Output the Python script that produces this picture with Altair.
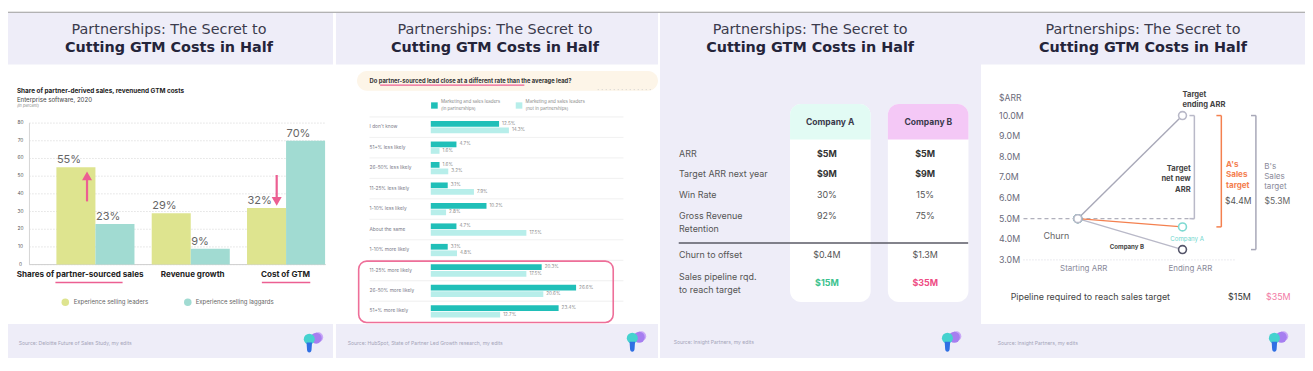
import altair as alt
import pandas as pd

# ---------------- data ----------------
title_line1 = "Partnerships: The Secret to"
title_line2 = "Cutting GTM Costs in Half"

# Panel 1 : grouped bars
p1_title = "Share of partner-derived sales, revenuend GTM costs"
p1_subtitle = "Enterprise software, 2020"
p1_unit = "(in percent)"
p1_categories = ["Shares of partner-sourced sales", "Revenue growth", "Cost of GTM"]
p1_series = ["Experience selling leaders", "Experience selling laggards"]
p1_leaders = [55, 29, 32]
p1_laggards = [23, 9, 70]
p1_ticks = [0, 10, 20, 30, 40, 50, 60, 70, 80]
p1_source = "Source: Deloitte Future of Sales Study, my edits"

# Panel 2 : horizontal paired bars
p2_question = "Do partner-sourced lead close at a different rate than the average lead?"
p2_categories = ["I don't know", "51+% less likely", "26-50% less likely", "11-25% less likely",
                 "1-10% less likely", "About the same", "1-10% more likely",
                 "11-25% more likely", "26-50% more likely", "51+% more likely"]
p2_series = ["Marketing and sales leaders|(in partnerships)",
             "Marketing and sales leaders|(not in partnerships)"]
p2_in = [12.5, 4.7, 1.6, 3.1, 10.2, 4.7, 3.1, 20.3, 26.6, 23.4]
p2_not = [14.3, 1.6, 3.2, 7.9, 2.8, 17.5, 4.8, 17.5, 20.6, 12.7]
p2_source = "Source: HubSpot, State of Partner Led Growth research, my edits"

# Panel 3 : comparison table
p3_companies = ["Company A", "Company B"]
p3_rows = ["ARR", "Target ARR next year", "Win Rate", "Gross Revenue|Retention",
           "Churn to offset", "Sales pipeline rqd.|to reach target"]
p3_company_a = ["$5M", "$9M", "30%", "92%", "$0.4M", "$15M"]
p3_company_b = ["$5M", "$9M", "15%", "75%", "$1.3M", "$35M"]
p3_source = "Source: Insight Partners, my edits"

# Panel 4 : ARR bridge
p4_stages = ["Starting ARR", "Ending ARR"]
p4_series = ["Company B", "Company A", "Target"]
p4_target = [5.0, 10.0]
p4_company_a = [5.0, 4.6]
p4_company_b = [5.0, 3.5]
p4_ticks = [3, 4, 5, 6, 7, 8, 9, 10]
p4_sales_target = ["$4.4M", "$5.3M"]
p4_pipeline = ["$15M", "$35M"]
p4_source = "Source: Insight Partners, my edits"

# ---------------- layout helpers ----------------
W, H = 1297, 350
SX, SY = W / 1313, H / 371
FS = 0.97
FONT = "Inter"
TFONT = "DejaVu Sans"
ONE = alt.Data(values=[{"k": 1}])

LAV = "#eeedf8"
PINK = "#ec5f92"
C_LEAD = "#dee48f"
C_LAG = "#a1dbd2"
C_DARK = "#20bfb8"
C_LIGHT = "#b7eeea"
C_TEAL4 = "#7fdad2"
C_B4 = "#55556a"
C_T4 = "#b9b9c8"
ORANGE = "#f4804f"


def X(v):
    return round(v * SX, 2)


def Y(v):
    return round(v * SY, 2)


def text(s, x, y, size, color="#555", weight="normal", align="left", style="normal", font=FONT):
    return alt.Chart(ONE).mark_text(
        text=s, font=font, fontSize=round(size * FS, 2), color=color, fontWeight=weight,
        align=align, baseline="middle", fontStyle=style,
    ).encode(x=alt.value(X(x)), y=alt.value(Y(y)))


def rect(x0, y0, x1, y1, fill, **kw):
    return alt.Chart(ONE).mark_rect(fill=fill, **kw).encode(
        x=alt.value(X(x0)), x2=alt.value(X(x1)), y=alt.value(Y(y0)), y2=alt.value(Y(y1)))


def rule(x0, y0, x1, y1, color, width=1.0, dash=None):
    kw = dict(color=color, strokeWidth=width)
    if dash:
        kw["strokeDash"] = dash
    return alt.Chart(ONE).mark_rule(**kw).encode(
        x=alt.value(X(x0)), x2=alt.value(X(x1)), y=alt.value(Y(y0)), y2=alt.value(Y(y1)))


def dot(x, y, d, color, shape="circle", opacity=1):
    return alt.Chart(ONE).mark_point(filled=True, shape=shape, size=d * d, color=color, opacity=opacity).encode(
        x=alt.value(X(x)), y=alt.value(Y(y)))


def logo(cx, cy):
    drop = "M -0.55 -1 L 0.55 -1 L 0.45 0.45 A 0.45 0.55 0 0 1 -0.45 0.45 Z"
    return [
        dot(cx + 9, cy - 2, 10, "#c9a8f7"),
        dot(cx + 7, cy - 1, 11, "#a67ef0"),
        dot(cx, cy, 11, "#45d2cf"),
        dot(cx, cy + 9, 10, "#2f6fe3", shape=drop),
    ]


layers = []

# ---------------- backgrounds ----------------
panels = [(0, 329), (332, 658), (660, 985), (985, 1313)]
for i, (a, b) in enumerate(panels):
    if i == 2:
        layers.append(rect(a, 5, b, 371, LAV))
    else:
        layers.append(rect(a, 5, b, 60, LAV))
        layers.append(rect(a, 335, b, 371, LAV))
layers.append(rule(0, 4.5, 1313, 4.5, "#9a9a9a", 1.2))

# titles
for cx in [163, 493, 812, 1149]:
    layers.append(text(title_line1, cx, 23, 14.8, "#3b3b4d", align="center", font=TFONT))
    layers.append(text(title_line2, cx, 42.5, 14.8, "#24243a", weight="bold", align="center", font=TFONT))

# ---------------- panel 1 ----------------
layers.append(text(p1_title, 9, 88, 6.6, "#222", weight="bold"))
layers.append(text(p1_subtitle, 9, 97.5, 6.3, "#444"))
layers.append(text(p1_unit, 9, 104, 4.2, "#888", style="italic"))

df1 = pd.DataFrame({
    "category": [c for c in p1_categories for _ in p1_series],
    "series": p1_series * len(p1_categories),
    "value": [v for pair in zip(p1_leaders, p1_laggards) for v in pair],
})
df1["label"] = df1["value"].astype(int).astype(str) + "%"
x1 = alt.X("category:N", axis=None,
           scale=alt.Scale(domain=p1_categories, range=[X(49), X(321)], paddingInner=0.181, paddingOuter=0))
xo1 = alt.XOffset("series:N", scale=alt.Scale(domain=p1_series, paddingInner=0, paddingOuter=0))
y1 = alt.Y("value:Q", axis=None, scale=alt.Scale(domain=[0, 80], range=[Y(272), Y(122)], nice=False))
col1 = alt.Color("series:N", legend=None, scale=alt.Scale(domain=p1_series, range=[C_LEAD, C_LAG]))
t1 = pd.DataFrame({"value": p1_ticks, "t": [str(t) for t in p1_ticks]})

p1_grid = alt.Chart(t1).mark_rule(color="#c9c9c9", strokeWidth=0.8, strokeDash=[1, 2]).encode(
    y=y1, x=alt.value(X(21.7)), x2=alt.value(X(321.7)))
p1_axis = alt.Chart(pd.DataFrame({"value": [0], "v2": [80]})).mark_rule(color="#d5d5d5", strokeWidth=1).encode(
    y=y1, y2="v2:Q", x=alt.value(X(21.7)))
p1_base = alt.Chart(pd.DataFrame({"value": [0]})).mark_rule(color="#cfcfcf", strokeWidth=1).encode(
    y=y1, x=alt.value(X(21.7)), x2=alt.value(X(321.7)))
p1_tl = alt.Chart(t1).mark_text(font=FONT, fontSize=4.8, color="#555", align="center", baseline="middle").encode(
    y=y1, x=alt.value(X(12.7)), text="t:N")
p1_bars = alt.Chart(df1).mark_bar().encode(x=x1, xOffset=xo1, y=y1, color=col1)
p1_labels = alt.Chart(df1).mark_text(font=FONT, fontSize=11, color="#666", baseline="bottom",
                                     align="left", dy=-2, dx=-19).encode(
    x=x1, xOffset=xo1, y=y1, text="label:N")
layers.append(alt.layer(p1_grid, p1_axis, p1_base, p1_tl, p1_bars, p1_labels))

# arrows
layers.append(rule(80, 205, 80, 180, PINK, 2.2))
layers.append(dot(80, 178, 10, PINK, shape="triangle-up"))
layers.append(rule(272, 177, 272, 202, PINK, 2.2))
layers.append(dot(272, 205, 10, PINK, shape="triangle-down"))

for cat, cx in zip(p1_categories, [73, 187, 281]):
    layers.append(text(cat, cx, 283.5, 8.3, "#222", weight="bold", align="center"))
layers.append(rule(48, 291, 116, 291, PINK, 1.5))
layers.append(rule(257, 291, 306, 291, PINK, 1.5))

layers.append(dot(58, 312, 7.5, C_LEAD))
layers.append(text(p1_series[0], 66.5, 312, 6.2, "#666"))
layers.append(dot(182, 312, 7.5, C_LAG))
layers.append(text(p1_series[1], 190, 312, 6.2, "#666"))
layers.append(text(p1_source, 11, 355, 5.2, "#a5a5b8"))
layers += logo(305, 351)

# ---------------- panel 2 ----------------
layers.append(rect(353.3, 66.7, 658, 87.7, "#fdf5e8", cornerRadius=10))
layers.append(rule(597, 86.5, 652, 86.5, "#c8c8c8", 0.8, dash=[1, 3]))
layers.append(text(p2_question, 366, 77.3, 6.0, "#333", weight="bold"))
layers.append(rule(376.7, 81.8, 522.7, 81.8, PINK, 1.3))

for sx_, col_, ser in [(428.3, C_DARK, p2_series[0]), (514, C_LIGHT, p2_series[1])]:
    layers.append(rect(sx_, 100, sx_ + 6.7, 106.7, col_))
    l1, l2 = ser.split("|")
    layers.append(text(l1, sx_ + 10, 100, 4.6, "#8a8a8a"))
    layers.append(text(l2, sx_ + 10, 106.7, 4.6, "#8a8a8a"))

for i in range(10):
    yy = 115.5 + 21.7 * i
    layers.append(rule(366, yy, 623, yy, "#ececec", 0.8))

df2 = pd.DataFrame({
    "cat": [c for c in p2_categories for _ in p2_series],
    "series": p2_series * len(p2_categories),
    "value": [v for pair in zip(p2_in, p2_not) for v in pair],
})
df2["label"] = df2["value"].map(lambda v: f"{v:.1f}%")
y2 = alt.Y("cat:N", axis=None,
           scale=alt.Scale(domain=p2_categories, range=[Y(115.5), Y(332.5)], paddingInner=0.4, paddingOuter=0.2))
yo2 = alt.YOffset("series:N", scale=alt.Scale(domain=p2_series, paddingInner=0.12, paddingOuter=0))
x2 = alt.X("value:Q", axis=None, scale=alt.Scale(domain=[0, 30], range=[X(428), X(593.9)], nice=False))
col2 = alt.Color("series:N", legend=None, scale=alt.Scale(domain=p2_series, range=[C_DARK, C_LIGHT]))
p2_bars = alt.Chart(df2).mark_bar().encode(x=x2, y=y2, yOffset=yo2, color=col2)
p2_vals = alt.Chart(df2).mark_text(font=FONT, fontSize=4.6, color="#8a8a8a", align="left", dx=3).encode(
    x=x2, y=y2, yOffset=yo2, text="label:N")
p2_rows = alt.Chart(pd.DataFrame({"cat": p2_categories})).mark_text(
    font=FONT, fontSize=4.8, color="#7a7a88", align="left").encode(y=y2, x=alt.value(X(366)), text="cat:N")
layers.append(alt.layer(p2_bars, p2_vals, p2_rows))

layers.append(rect(355, 268.3, 612.7, 333.3, "transparent", stroke="#ee6f99", strokeWidth=1.6, cornerRadius=8))
layers.append(text(p2_source, 344, 355, 5.2, "#a5a5b8"))
layers += logo(632, 350)

# ---------------- panel 3 ----------------
cards = [(791.7, 873.3, "#e2fbf4", 832.3, 829), (890.7, 972.3, "#f4c8f6", 931.7, 928.5)]
for (a, b, hc, hx, vx), name, vals in zip(cards, p3_companies, [p3_company_a, p3_company_b]):
    layers.append(rect(a, 101.7, b, 311.7, "white", cornerRadius=11))
    layers.append(rect(a, 101.7, b, 139.3, hc, cornerRadiusTopLeft=11, cornerRadiusTopRight=11))
    layers.append(text(name, hx, 120.7, 8.8, "#3a3a4c", weight="bold", align="center"))

row_y = [154.3, 176, 198.3, 220.7, 262.3, 285]
for r, ry in zip(p3_rows, row_y):
    for j, part in enumerate(r.split("|")):
        layers.append(text(part, 679.3, ry + j * 13.5, 9.2, "#555"))
for vals, vx, big in [(p3_company_a, 829, "#3cc28e"), (p3_company_b, 928.5, "#ee4c84")]:
    for k, (v, ry) in enumerate(zip(vals, row_y)):
        if k in (0, 1):
            layers.append(text(v, vx, ry, 9.2, "#333", weight="bold", align="center"))
        elif k == 5:
            layers.append(text(v, vx, ry + 6.5, 9.2, big, weight="bold", align="center"))
        else:
            layers.append(text(v, vx, ry, 9.2, "#555", align="center"))
layers.append(rule(679, 249, 972, 249, "#5a5a66", 1.5))
layers.append(text(p3_source, 674, 354, 5.2, "#a5a5b8"))
layers += logo(951, 350)

# ---------------- panel 4 ----------------
y4_scale = alt.Scale(domain=[3, 10], range=[Y(267), Y(114)], nice=False, zero=False)
x4 = alt.X("stage:N", axis=None,
           scale=alt.Scale(type="point", domain=p4_stages, range=[X(1083), X(1189)], padding=0))
y4 = alt.Y("arr:Q", axis=None, scale=y4_scale)
df4 = pd.DataFrame({
    "series": [s for s in p4_series for _ in p4_stages],
    "stage": p4_stages * len(p4_series),
    "arr": p4_company_b + p4_company_a + p4_target,
})
col4 = dict(domain=p4_series, range=[C_B4, C_TEAL4, C_T4])
t4 = pd.DataFrame({"arr": p4_ticks, "t": [f"{t:.1f}M" for t in p4_ticks]})

p4_tl = alt.Chart(t4).mark_text(font=FONT, fontSize=8.8, color="#6a6a7a", align="left").encode(
    y=y4, x=alt.value(X(1003.3)), text="t:N")
p4_base = alt.Chart(pd.DataFrame({"arr": [p4_ticks[0]]})).mark_rule(
    color="#d8d8e0", strokeWidth=1, strokeDash=[1, 2]).encode(y=y4, x=alt.value(X(1028)), x2=alt.value(X(1242)))
p4_start = alt.Chart(pd.DataFrame({"arr": [p4_target[0]]})).mark_rule(
    color="#b0b0bc", strokeWidth=1.2, strokeDash=[4, 3]).encode(y=y4, x=alt.value(X(1028)), x2=alt.value(X(1201)))

brackets = pd.DataFrame({
    "arr": [p4_target[1]] * 3,
    "arr2": [p4_target[0], p4_company_a[1], p4_company_b[1]],
    "which": ["net", "A", "B"],
})
bcol = alt.Color("which:N", legend=None, scale=alt.Scale(domain=["net", "A", "B"], range=[C_T4, ORANGE, "#a8a8b8"]))
p4_br = []
for w, bx in [("net", 1201), ("A", 1228.3), ("B", 1263.3)]:
    sub = brackets[brackets["which"] == w]
    p4_br.append(alt.Chart(sub).mark_rule(strokeWidth=1.5).encode(
        y=y4, y2="arr2:Q", x=alt.value(X(bx)), color=bcol))
    p4_br.append(alt.Chart(sub).mark_rule(strokeWidth=1.5).encode(
        y=y4, x=alt.value(X(bx - 5)), x2=alt.value(X(bx)), color=bcol))
    p4_br.append(alt.Chart(sub).mark_rule(strokeWidth=1.5).encode(
        y=alt.Y("arr2:Q", scale=y4_scale, axis=None),
        x=alt.value(X(bx - 5)), x2=alt.value(X(bx)), color=bcol))

p4_lines = alt.Chart(df4).mark_line(strokeWidth=1.4).encode(
    x=x4, y=y4, color=alt.Color("series:N", legend=None, scale=alt.Scale(**col4)), detail="series:N")
p4_pts = alt.Chart(df4).mark_point(filled=True, fill="white", size=62, strokeWidth=1.6, opacity=1).encode(
    x=x4, y=y4, stroke=alt.Stroke("series:N", legend=None, scale=alt.Scale(**col4)))
layers.append(alt.layer(p4_base, p4_start, p4_tl, *p4_br, p4_lines, p4_pts))

layers.append(text("$ARR", 1003.3, 95, 8.8, "#6a6a7a"))
layers.append(text("Target", 1189, 91.7, 7.8, "#444", weight="bold"))
layers.append(text("ending ARR", 1189, 102.7, 7.8, "#444", weight="bold"))
for s, yy in zip(["Target", "net new", "ARR"], [171, 181.7, 192.7]):
    layers.append(text(s, 1197.3, yy, 7.8, "#444", weight="bold", align="right"))
for s, yy in zip(["A's", "Sales", "target"], [166, 177.3, 188.3]):
    layers.append(text(s, 1233, yy, 8.3, ORANGE, weight="bold"))
layers.append(text(p4_sales_target[0], 1232, 205, 8.8, "#555"))
for s, yy in zip(["B's", "Sales", "target"], [168.3, 179, 189.3]):
    layers.append(text(s, 1271.7, yy, 8.3, "#8a8a9a"))
layers.append(text(p4_sales_target[1], 1272, 205, 8.8, "#666"))
layers.append(text("Churn", 1048.3, 241.7, 9.2, "#666"))
layers.append(text(p4_series[1], 1193.7, 245, 6.3, "#6fd6cd", align="center"))
layers.append(text(p4_series[0], 1132.7, 253.3, 6.3, "#444", weight="bold", align="center"))
layers.append(text(p4_stages[0], 1089, 276.7, 8.2, "#8a8a9a", align="center"))
layers.append(text(p4_stages[1], 1197, 276.7, 8.2, "#8a8a9a", align="center"))
layers.append(text("Pipeline required to reach sales  target", 1015, 306.7, 9.2, "#444"))
layers.append(text(p4_pipeline[0], 1246.7, 306.7, 9.2, "#333", align="center"))
layers.append(text(p4_pipeline[1], 1286, 306.7, 9.2, "#f27aa5", align="center"))
layers.append(text(p4_source, 1002, 355, 5.2, "#a5a5b8"))
layers += logo(1282, 350)

chart = alt.layer(*layers).resolve_scale(
    x="independent", y="independent", color="independent", stroke="independent",
    xOffset="independent", yOffset="independent",
).properties(
    width=W, height=H, padding=0, background="white",
    autosize=alt.AutoSizeParams(type="none"),
).configure_view(stroke=None)

chart.save("out.html", embed_options={"renderer": "svg", "actions": False})
